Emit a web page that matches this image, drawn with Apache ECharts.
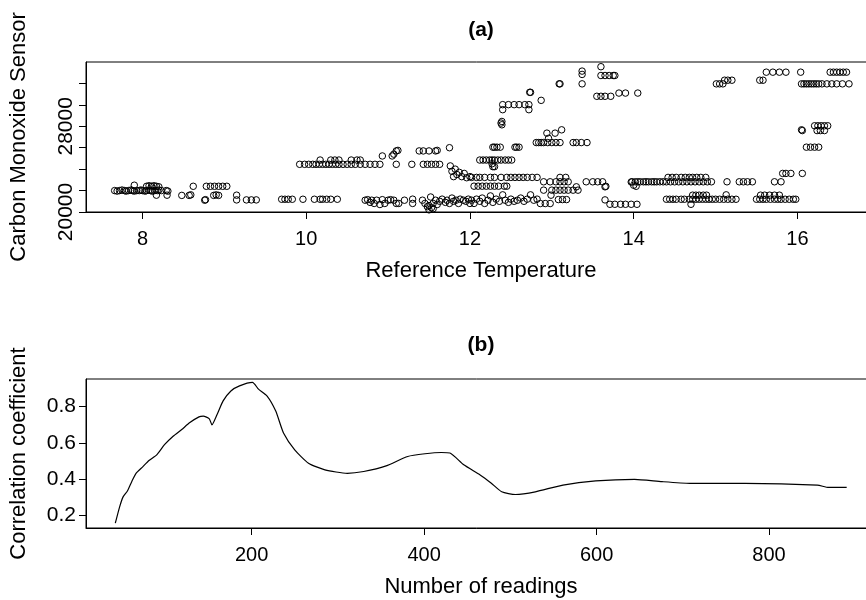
<!DOCTYPE html>
<html>
<head>
<meta charset="utf-8">
<script src="https://cdn.jsdelivr.net/npm/echarts@6/dist/echarts.min.js"></script>
<style>
html,body{margin:0;padding:0;background:#fff;}
#chart{width:866px;height:600px;}
</style>
</head>
<body>
<div id="chart"></div>
<script>
// ---------- Panel (a): Reference Temperature vs Carbon Monoxide Sensor ----------
const scatterCold = [
  [7.66,22000],[7.69,21950],[7.72,22000],[7.75,22050],[7.78,22000],[7.80,21950],[7.83,22000],[7.86,22050],
  [7.88,22000],[7.90,21950],[7.93,22000],[7.96,22000],[7.98,22050],[8.00,22000],[8.03,21950],[8.05,22000],
  [8.08,22050],[8.10,22000],[8.12,21950],[8.15,22000],[8.18,22000],[8.20,22050],[8.23,22000],
  [8.05,22400],[8.08,22450],[8.11,22400],[8.14,22450],[8.17,22400],[8.20,22350],[7.90,22500],
  [8.17,21570],[8.30,21570],[8.29,22000],[8.31,21950],
  [8.48,21550],[8.57,21550],[8.59,21600],[8.62,22400],[8.76,21100],[8.77,21150],
  [8.78,22400],[8.83,22400],[8.88,22400],[8.93,22400],[8.98,22400],[9.03,22400],
  [8.87,21550],[8.90,21600],[8.93,21550],[9.15,21570],[9.15,21130],[9.27,21130],[9.33,21130],[9.39,21130]
];
const scatterMild = [
  [9.70,21190],[9.74,21190],[9.78,21190],[9.83,21190],[9.96,21190],[10.10,21190],[10.17,21190],[10.20,21190],
  [10.25,21190],[10.30,21190],[10.38,21190],
  [10.72,21100],[10.75,21150],[10.78,20900],[10.80,21100],[10.83,20800],[10.86,21100],[10.90,20700],[10.93,21150],
  [10.96,20800],[11.00,21100],[11.03,21150],[11.07,21100],[11.10,20800],[11.13,20800],[11.20,21100],
  [11.30,21200],[11.30,20800],
  [11.42,21100],[11.45,20800],[11.48,20500],[11.50,20600],[11.52,21400],[11.55,20800],[11.58,21100],[11.60,20700],
  [11.63,21000],[11.66,21200],[11.70,20900],[11.72,21100],[11.75,20800],[11.78,21300],[11.80,21000],[11.83,21100],
  [11.86,20800],[11.88,21200],[11.92,21100],[11.95,21000],[11.98,21200],[12.00,20800],
  [11.50,20200],[11.53,20400],[11.55,20300],
  [9.92,24450],[9.98,24450],[10.03,24450],[10.08,24450],[10.12,24450],[10.16,24450],[10.20,24450],[10.24,24450],
  [10.28,24450],[10.32,24450],[10.36,24450],[10.40,24450],[10.45,24450],[10.50,24450],[10.55,24450],[10.60,24450],
  [10.66,24450],[10.72,24450],[10.78,24450],[10.84,24450],[10.90,24450],[11.10,24450],[11.29,24450],
  [11.43,24450],[11.48,24450],[11.53,24450],[11.58,24450],[11.63,24450],
  [10.17,24850],[10.30,24850],[10.35,24850],[10.40,24850],[10.55,24850],[10.62,24850],[10.66,24850],
  [10.93,25230],[11.05,25230],[11.07,25400],
  [11.10,25700],[11.12,25750],[11.38,25700],[11.43,25700],[11.50,25700],[11.58,25700],[11.60,25750],[11.75,26000],
  [11.78,23800],[11.80,23300],[11.84,23500],[11.87,23700],[11.90,23300],[11.93,23600],[11.96,23200],[12.00,23300],
  [11.82,24000],[11.76,24300]
];
const scatterWarm = [
  [13.60,33560],[13.60,32740],[13.65,32740],[13.70,32740],[13.75,32740],[13.77,32740],
  [13.37,33150],[13.37,32840],[13.37,31960],[13.09,31960],[13.10,31960],[12.73,31170],[12.74,31170],
  [12.40,30020],[12.47,30020],[12.54,30020],[12.60,30020],[12.67,30020],[12.72,30020],[12.40,29550],[12.72,29550],
  [12.87,30420],[13.55,30800],[13.60,30800],[13.65,30800],[13.72,30800],[13.82,31100],[13.90,31100],[14.05,31100],
  [12.39,28450],[12.39,28140],[12.38,28300],
  [12.94,27360],[13.04,27360],[13.12,27670],[12.96,26880],
  [12.81,26480],[12.84,26480],[12.87,26480],[12.90,26480],[12.95,26480],[13.00,26480],[13.05,26480],[13.10,26480],
  [13.26,26480],[13.30,26480],[13.36,26480],[13.43,26480],
  [12.28,26050],[12.30,26050],[12.33,26050],[12.37,26050],[12.55,26050],[12.57,26050],[12.60,26050],
  [12.12,24850],[12.16,24850],[12.20,24850],[12.24,24850],[12.27,24850],[12.30,24850],[12.34,24850],[12.38,24850],
  [12.43,24850],[12.47,24850],[12.51,24850],[12.28,24230],[12.30,24230],[12.27,24500],
  [12.02,23230],[12.08,23230],[12.12,23230],[12.18,23230],[12.25,23230],[12.30,23230],[12.38,23230],[12.45,23230],
  [12.50,23230],[12.55,23230],[12.60,23230],[12.65,23230],[12.70,23230],[12.76,23230],[12.82,23230],
  [12.05,22410],[12.10,22410],[12.15,22410],[12.20,22410],[12.25,22410],[12.30,22410],[12.35,22410],[12.42,22410],[12.45,22410],
  [12.90,22820],[12.98,22820],[13.05,22820],[13.10,22820],[13.15,22820],[13.20,22820],[13.10,23230],[13.17,23230],
  [13.42,22820],[13.50,22820],[13.56,22820],[13.62,22820],[13.65,22350],[13.66,22400],
  [12.90,22040],[13.00,22040],[13.05,22040],[13.10,22040],[13.15,22040],[13.20,22040],[13.26,22040],[13.32,22040],
  [13.30,22350],[12.99,21570],[12.86,20790],[12.92,20790],[12.98,20790],[13.08,21160],[13.13,21160],[13.18,21160],
  [12.02,21100],[12.05,20800],[12.08,21200],[12.12,21000],[12.15,21300],[12.18,20800],[12.22,21100],[12.25,21500],
  [12.28,20900],[12.32,21200],[12.36,21000],[12.40,21600],[12.43,21100],[12.47,20900],[12.50,21200],[12.54,21000],
  [12.58,21100],[12.62,21300],[12.66,21000],[12.70,21200],[12.74,21600],[12.78,21100],[12.82,21200],
  [13.65,21130],[13.71,20720],[13.77,20720],[13.84,20720],[13.90,20720],[13.97,20720],[14.04,20720],
  [13.97,22800],[14.00,22500],[14.03,22400]
];
const scatterHot = [
  [13.98,22820],[14.02,22820],[14.05,22820],[14.08,22820],[14.12,22820],[14.15,22820],[14.18,22820],[14.22,22820],
  [14.25,22820],[14.28,22820],[14.32,22820],[14.36,22820],[14.40,22820],[14.45,22820],[14.50,22820],[14.55,22820],
  [14.60,22820],[14.65,22820],[14.70,22820],[14.75,22820],[14.80,22820],[14.85,22820],[14.90,22820],[14.95,22820],
  [14.42,23230],[14.47,23230],[14.52,23230],[14.58,23230],[14.63,23230],[14.68,23230],[14.72,23230],[14.77,23230],
  [14.82,23230],[14.88,23230],
  [15.14,22820],[15.29,22820],[15.34,22820],[15.39,22820],[15.45,22820],[15.72,22820],[15.80,22820],
  [14.40,21190],[14.44,21190],[14.48,21190],[14.52,21190],[14.58,21190],[14.62,21190],[14.68,21190],[14.72,21190],
  [14.76,21190],[14.80,21190],[14.84,21190],[14.88,21190],[14.92,21190],[14.96,21190],[15.00,21190],[15.05,21190],
  [15.10,21190],[15.15,21190],[15.20,21190],[15.25,21190],
  [14.72,21570],[14.76,21570],[14.80,21570],[14.85,21570],[14.89,21570],[14.70,20720],[15.13,21600],
  [15.50,21190],[15.54,21190],[15.58,21190],[15.62,21190],[15.67,21190],[15.72,21190],[15.76,21190],[15.80,21190],
  [15.85,21190],[15.90,21190],[15.95,21190],[15.98,21190],
  [15.55,21570],[15.60,21570],[15.66,21570],[15.72,21570],[15.78,21570],
  [15.82,23600],[15.86,23600],[15.92,23600],[16.06,23600],
  [16.11,26050],[16.16,26050],[16.21,26050],[16.26,26050],
  [16.21,28050],[16.25,28050],[16.29,28050],[16.33,28050],[16.37,28050],[16.24,27600],[16.28,27600],[16.33,27600],
  [16.05,27670],[16.06,27600],
  [15.01,31960],[15.05,31960],[15.09,31960],[15.11,32300],[15.15,32300],[15.20,32300],[15.54,32300],[15.58,32300],
  [15.62,33050],[15.70,33050],[15.78,33050],[15.86,33050],[16.04,33050],
  [16.40,33050],[16.44,33050],[16.48,33050],[16.52,33050],[16.56,33050],[16.60,33050],
  [16.05,31960],[16.08,31960],[16.11,31960],[16.14,31960],[16.17,31960],[16.20,31960],[16.23,31960],[16.26,31960],
  [16.30,31960],[16.36,31960],[16.42,31960],[16.48,31960],[16.55,31960],[16.63,31960]
];
const tempTicks = [8, 10, 12, 14, 16];
const sensorTicks = [20000, 22000, 24000, 26000, 28000, 30000, 32000];
const sensorLabels = [20000, 28000];

// ---------- Panel (b): Number of readings vs Correlation coefficient ----------
const readings = [42, 47, 51, 56, 61, 66, 74, 81, 90, 99, 109, 119, 128, 139, 144, 151, 154, 160, 167, 176, 186, 201,
  208, 218, 228, 237, 250, 266, 285, 311, 330, 356, 381, 401, 420, 430, 446, 465, 478, 490, 506, 529, 561, 599,
  644, 676, 708, 772, 856, 869, 890];
const correlation = [0.157, 0.247, 0.302, 0.334, 0.386, 0.432, 0.469, 0.503, 0.534, 0.590, 0.637, 0.674, 0.711, 0.744,
  0.748, 0.733, 0.700, 0.757, 0.832, 0.887, 0.915, 0.934, 0.897, 0.859, 0.776, 0.655, 0.562, 0.488, 0.451, 0.432,
  0.442, 0.473, 0.525, 0.540, 0.547, 0.544, 0.479, 0.423, 0.377, 0.330, 0.315, 0.330, 0.367, 0.390, 0.399, 0.386,
  0.377, 0.377, 0.367, 0.354, 0.354];
const readingTicks = [200, 400, 600, 800];
const corrTicks = [0.2, 0.4, 0.6, 0.8];

const FONT = '"Liberation Sans", Arial, Helvetica, sans-serif';
const scatterData = [].concat(scatterCold, scatterMild, scatterWarm, scatterHot);
const lineData = readings.map((r, i) => [r, correlation[i]]);

const chart = echarts.init(document.getElementById('chart'), null, {renderer: 'canvas'});
const axisCommon = {
  axisLine: {show: true, onZero: false, lineStyle: {color: '#000', width: 1}},
  axisTick: {show: true, inside: false, length: 7, lineStyle: {color: '#000', width: 1}},
  splitLine: {show: false},
  nameTextStyle: {fontFamily: FONT, fontSize: 22, color: '#000'}
};
chart.setOption({
  animation: false,
  backgroundColor: '#fff',
  graphic: [
    {type: 'text', x: 481, y: 30, style: {text: '(a)', font: 'bold 21px ' + FONT, fill: '#000', textAlign: 'center', textVerticalAlign: 'middle'}},
    {type: 'text', x: 481, y: 345, style: {text: '(b)', font: 'bold 21px ' + FONT, fill: '#000', textAlign: 'center', textVerticalAlign: 'middle'}}
  ],
  grid: [
    {left: 86, top: 62, width: 790, height: 150, outerBoundsMode: 'none', containLabel: false,
     show: true, borderColor: '#000', borderWidth: 1, backgroundColor: 'transparent'},
    {left: 86, top: 379, width: 790, height: 149, outerBoundsMode: 'none', containLabel: false,
     show: true, borderColor: '#000', borderWidth: 1, backgroundColor: 'transparent'}
  ],
  xAxis: [
    Object.assign({}, axisCommon, {
      gridIndex: 0, type: 'value', min: 7.31, max: 16.96,
      name: 'Reference Temperature', nameLocation: 'middle', nameGap: 48,
      axisTick: Object.assign({}, axisCommon.axisTick, {customValues: tempTicks}),
      axisLabel: {customValues: tempTicks, margin: 17, fontFamily: FONT, fontSize: 20, color: '#000'}
    }),
    Object.assign({}, axisCommon, {
      gridIndex: 1, type: 'value', min: 8, max: 924,
      name: 'Number of readings', nameLocation: 'middle', nameGap: 48,
      axisTick: Object.assign({}, axisCommon.axisTick, {customValues: readingTicks}),
      axisLabel: {customValues: readingTicks, margin: 17, fontFamily: FONT, fontSize: 20, color: '#000'}
    })
  ],
  yAxis: [
    Object.assign({}, axisCommon, {
      gridIndex: 0, type: 'value', min: 20000, max: 34000,
      name: 'Carbon Monoxide Sensor', nameLocation: 'middle', nameRotate: 90, nameGap: 56,
      axisTick: Object.assign({}, axisCommon.axisTick, {customValues: sensorTicks}),
      axisLabel: {customValues: sensorLabels, rotate: 90, margin: 9, fontFamily: FONT, fontSize: 21, color: '#000',
        formatter: v => String(v)}
    }),
    Object.assign({}, axisCommon, {
      gridIndex: 1, type: 'value', min: 0.13, max: 0.953,
      name: 'Correlation coefficient', nameLocation: 'middle', nameRotate: 90, nameGap: 56,
      axisTick: Object.assign({}, axisCommon.axisTick, {customValues: corrTicks}),
      axisLabel: {customValues: corrTicks, margin: 10, fontFamily: FONT, fontSize: 21, color: '#000',
        formatter: v => v.toFixed(1)}
    })
  ],
  series: [
    {
      type: 'scatter', xAxisIndex: 0, yAxisIndex: 0, data: scatterData,
      symbol: 'circle', symbolSize: 6.5,
      itemStyle: {color: 'transparent', borderColor: '#000', borderWidth: 1, opacity: 1},
      emphasis: {disabled: true}
    },
    {
      type: 'line', xAxisIndex: 1, yAxisIndex: 1, data: lineData,
      showSymbol: false, smooth: 0.2,
      lineStyle: {color: '#000', width: 1.2}
    }
  ]
});
</script>
</body>
</html>
